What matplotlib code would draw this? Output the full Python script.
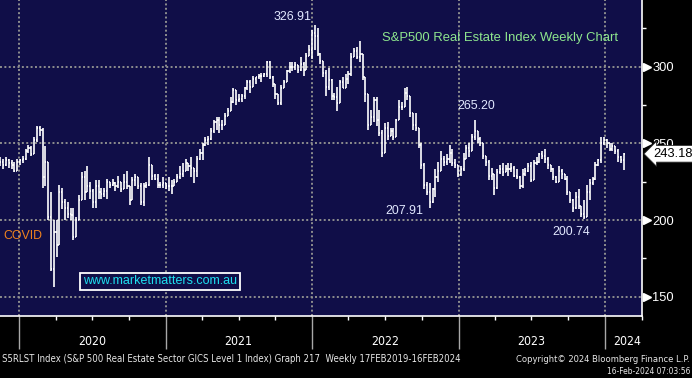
import numpy as np
import pandas as pd
import matplotlib
matplotlib.use("Agg")
import matplotlib.pyplot as plt
import matplotlib.dates as mdates
import matplotlib.transforms as mtrans
from matplotlib.ticker import FixedLocator
from matplotlib import font_manager as fm

# ---------------- data (weekly OHLC) ----------------
start_date = "2019-11-15"

opens = [237, 238, 236, 239, 237, 236, 232, 238, 239, 240,
         245, 247, 243, 252, 260, 259, 228, 238, 202, 168,
         192, 184, 218, 212, 208, 204, 203, 189, 200, 213,
         228, 218, 222, 219, 212, 222, 218, 217, 219, 225,
         223, 224, 222, 225, 220, 225, 222, 213, 226, 228,
         222, 212, 222, 223, 236, 229, 227, 223, 223, 224,
         222, 222, 222, 225, 228, 230, 232, 237, 235, 234,
         232, 240, 244, 249, 252, 253, 258, 264, 265, 262,
         262, 268, 271, 277, 285, 278, 279, 281, 286, 290,
         287, 292, 293, 294, 294, 295, 303, 293, 289, 282,
         276, 286, 290, 297, 300, 300, 301, 298, 302, 298,
         307, 311, 322, 320, 308, 304, 296, 287, 291, 281,
         280, 276, 290, 286, 292, 295, 306, 310, 306, 308,
         293, 282, 262, 267, 278, 265, 257, 244, 260, 255,
         258, 254, 265, 274, 274, 283, 281, 270, 262, 260,
         249, 236, 223, 218, 212, 220, 228, 232, 240, 238,
         240, 244, 237, 236, 230, 233, 240, 247, 245, 254,
         258, 253, 250, 242, 238, 229, 230, 221, 231, 233,
         231, 233, 233, 234, 229, 228, 222, 230, 232, 235,
         226, 237, 238, 243, 242, 240, 236, 233, 228, 225,
         232, 230, 227, 218, 213, 208, 215, 209, 204, 202,
         218, 224, 227, 236, 239, 250, 252, 250, 246, 248,
         245, 241, 239]

highs = [241, 240, 241, 240, 239, 238, 240, 240, 242, 246,
         249, 248, 254, 261, 261, 260, 248, 238, 218, 200,
         200, 223, 221, 214, 212, 208, 208, 202, 216, 231,
         232, 235, 225, 220, 226, 226, 221, 221, 227, 225,
         227, 225, 229, 225, 230, 232, 221, 228, 230, 228,
         224, 224, 225, 241, 236, 230, 230, 225, 228, 224,
         228, 226, 227, 230, 235, 237, 240, 237, 241, 233,
         242, 246, 250, 254, 255, 260, 265, 267, 267, 265,
         270, 273, 280, 286, 285, 282, 282, 287, 291, 291,
         294, 293, 295, 296, 296, 304, 304, 294, 288, 280,
         288, 291, 298, 303, 303, 303, 301, 306, 303, 309,
         314, 324, 326.91, 325, 309, 303, 298, 299, 292, 283,
         287, 291, 293, 295, 297, 309, 312, 313, 317, 306,
         293, 280, 272, 280, 280, 272, 259, 263, 264, 260,
         260, 266, 278, 277, 286, 287, 280, 270, 270, 260,
         250, 237, 225, 224, 221, 233, 238, 245, 242, 243,
         249, 246, 240, 236, 235, 244, 249, 250, 256, 265.20,
         258, 254, 250, 242, 239, 234, 229, 233, 236, 237,
         236, 237, 237, 235, 233, 229, 233, 234, 237, 238,
         239, 241, 244, 245, 246, 241, 236, 234, 229, 235,
         233, 230, 229, 218, 214, 218, 220, 209, 213, 223,
         227, 228, 238, 240, 254, 254, 253, 250, 250, 248,
         246, 242, 243.5]

lows = [235, 233, 235, 234, 233, 231, 232, 236, 237, 239,
        244, 242, 243, 251, 255, 221, 222, 200, 167, 156,
        176, 186, 207, 200, 201, 200, 187, 191, 202, 214,
        213, 218, 214, 208, 208, 214, 214, 215, 214, 221,
        222, 219, 221, 218, 222, 220, 210, 216, 222, 220,
        210, 209, 221, 222, 226, 226, 221, 221, 221, 220,
        219, 217, 222, 225, 227, 228, 232, 232, 228, 224,
        228, 239, 239, 248, 249, 252, 257, 259, 257, 259,
        262, 268, 271, 276, 275, 277, 277, 279, 285, 283,
        287, 289, 292, 290, 293, 293, 292, 287, 279, 275,
        275, 286, 290, 296, 297, 298, 296, 297, 294, 298,
        307, 305, 311, 307, 302, 293, 281, 285, 278, 278,
        271, 280, 286, 286, 289, 294, 306, 305, 303, 291,
        277, 259, 262, 264, 261, 255, 241, 244, 252, 255,
        252, 254, 265, 272, 274, 278, 267, 259, 258, 247,
        233, 220, 216, 207.91, 211, 215, 225, 232, 235, 236,
        237, 235, 234, 228, 229, 232, 240, 241, 245, 252,
        250, 248, 240, 235, 226, 226, 216, 220, 230, 229,
        231, 229, 231, 228, 227, 220, 221, 229, 231, 225,
        226, 236, 237, 240, 237, 233, 231, 226, 224, 225,
        227, 226, 216, 211, 205, 207, 207, 202, 200.74, 202,
        213, 223, 226, 235, 237, 249, 247, 245, 245, 243,
        238, 237, 232.7]

closes = [238, 236, 239, 237, 236, 232, 238, 239, 240, 245,
          247, 243, 252, 260, 259, 228, 238, 202, 168, 192,
          184, 218, 212, 208, 204, 203, 189, 200, 213, 228,
          218, 222, 219, 212, 222, 218, 217, 219, 225, 223,
          224, 222, 225, 220, 225, 222, 213, 226, 228, 222,
          212, 222, 223, 236, 229, 227, 223, 223, 224, 222,
          222, 222, 225, 228, 230, 232, 237, 235, 234, 232,
          240, 244, 249, 252, 253, 258, 264, 265, 262, 262,
          268, 271, 277, 285, 278, 279, 281, 286, 290, 287,
          292, 293, 294, 294, 295, 303, 293, 289, 282, 276,
          286, 290, 297, 300, 300, 301, 298, 302, 298, 307,
          311, 322, 320, 308, 304, 296, 287, 291, 281, 280,
          276, 290, 286, 292, 295, 306, 310, 306, 308, 293,
          282, 262, 267, 278, 265, 257, 244, 260, 255, 258,
          254, 265, 274, 274, 283, 281, 270, 262, 260, 249,
          236, 223, 218, 212, 220, 228, 232, 240, 238, 240,
          244, 237, 236, 230, 233, 240, 247, 245, 254, 258,
          253, 250, 242, 238, 229, 230, 221, 231, 233, 231,
          233, 233, 234, 229, 228, 222, 230, 232, 235, 226,
          237, 238, 243, 242, 240, 236, 233, 228, 225, 232,
          230, 227, 218, 213, 208, 215, 209, 204, 202, 218,
          224, 227, 236, 239, 250, 252, 250, 246, 248, 245,
          241, 239, 243.18]

y_ticks = [150, 200, 250, 300]
y_minor = [175, 225, 275, 325]
year_starts = ["2020-01-01", "2021-01-01", "2022-01-01", "2023-01-01", "2024-01-01"]
year_labels = ["2020", "2021", "2022", "2023", "2024"]
year_label_pos = ["2020-07-01", "2021-07-01", "2022-07-01", "2023-07-01", "2024-02-25"]

annotations = [("326.91", 293, 17.5), ("265.20", 476, 106),
               ("207.91", 404, 211), ("200.74", 571, 232)]
last_value = "243.18"

# ---------------- figure ----------------
W, H = 692, 378
AX_W, AX_H = 642, 316
fig = plt.figure(figsize=(W / 100, H / 100), dpi=100, facecolor="black")
ax = fig.add_axes([0, (H - AX_H) / H, AX_W / W, AX_H / H])
ax.set_facecolor("#100e48")

names = {f.name for f in fm.fontManager.ttflist}
sans = "Liberation Sans" if "Liberation Sans" in names else "DejaVu Sans"
narrow_kw = dict(family=sans)
if "Liberation Sans Narrow" in names:
    narrow_kw = dict(family="Liberation Sans Narrow")
elif any(f.name == "DejaVu Sans" and str(f.stretch) in ("condensed", "semi-condensed")
         for f in fm.fontManager.ttflist):
    narrow_kw = dict(family="DejaVu Sans", stretch="condensed")

dates = pd.date_range(start_date, periods=len(closes), freq="7D")
x = mdates.date2num(dates)
o = np.array(opens, float)
h = np.array(highs, float)
l = np.array(lows, float)
c = np.array(closes, float)

ax.set_xlim(mdates.date2num(pd.Timestamp("2019-11-14")),
            mdates.date2num(pd.Timestamp("2024-04-02")))
ax.set_ylim(137.4, 343.5)

grid_kw = dict(color="#8e8e8e", lw=1.4, ls=(0, (1, 1.25)), zorder=1)
for v in y_ticks:
    ax.axhline(v, **grid_kw)
for d in year_starts:
    ax.axvline(mdates.date2num(pd.Timestamp(d)), **grid_kw)

# OHLC bars
top = np.maximum.reduce([h, o, c])
bot = np.minimum.reduce([l, o, c])
tick = 2.6
ax.vlines(x, bot, top, color="white", lw=1.2, zorder=3)
ax.hlines(o, x - tick, x, color="white", lw=1.2, zorder=3)
ax.hlines(c, x, x + tick, color="white", lw=1.2, zorder=3)

# spines
for s in ["top", "left"]:
    ax.spines[s].set_visible(False)
for s in ["right", "bottom"]:
    ax.spines[s].set_color("white")
    ax.spines[s].set_linewidth(1.2)

# x ticks
ax.set_xticks([mdates.date2num(pd.Timestamp(d)) for d in year_starts])
ax.xaxis.set_minor_locator(mdates.MonthLocator(bymonth=[4, 7, 10]))
ax.tick_params(axis="x", which="major", length=24, width=1, color="#a8a8a8",
               labelbottom=False, direction="out")
ax.tick_params(axis="x", which="minor", length=2.6, width=1, color="white",
               direction="out")

texts = []
ytrans = mtrans.blended_transform_factory(ax.transData, ax.transAxes)
for lab, d in zip(year_labels, year_label_pos):
    t = ax.text(mdates.date2num(pd.Timestamp(d)), -25.5 / AX_H, lab, ha="center",
                va="center", color="white", fontsize=10, transform=ytrans,
                clip_on=False, **narrow_kw)
    texts.append((t, 28))

# y axis on the right
ax.yaxis.tick_right()
ax.set_yticks(y_ticks)
ax.set_yticklabels([str(v) for v in y_ticks], family=sans)
ax.yaxis.set_minor_locator(FixedLocator(y_minor))
ax.tick_params(axis="y", which="major", length=0, pad=7.3, labelcolor="white",
               labelsize=9.3)
ax.tick_params(axis="y", which="minor", length=3, width=1, color="white",
               direction="out")
rtrans = mtrans.blended_transform_factory(ax.transAxes, ax.transData)
ax.plot([1 + 4.5 / AX_W] * len(y_ticks), y_ticks, ls="none", marker=">", ms=6,
        color="white", transform=rtrans, clip_on=False, zorder=4)

# last value box
ax.text(1 + 11 / AX_W, c[-1], last_value, transform=rtrans, ha="left", va="center",
        fontsize=9.3, family=sans, color="black", zorder=10, clip_on=False,
        bbox=dict(boxstyle="larrow,pad=0.18", fc="white", ec="#303030", lw=0.6))


def ax_pt(px, py):
    return px / AX_W, (AX_H - py) / AX_H


for s, px, py in annotations:
    t = ax.text(*ax_pt(px, py), s, transform=ax.transAxes, ha="center", va="center",
                color="#e2e8ff", fontsize=9, family=sans, zorder=6)
    texts.append((t, 38))

t_title = ax.text(*ax_pt(500, 37.5), "S&P500 Real Estate Index Weekly Chart",
                  transform=ax.transAxes, ha="center", va="center",
                  color="#8ee68e", fontsize=10, family=sans, zorder=6)
texts.append((t_title, 236))
t_covid = ax.text(*ax_pt(3, 236), "COVID", transform=ax.transAxes, ha="left",
                  va="center", color="#f0821e", fontsize=10, family=sans, zorder=6)
texts.append((t_covid, 39))
t_url = ax.text(*ax_pt(160, 281.5), "www.marketmatters.com.au", transform=ax.transAxes,
                ha="center", va="center", color="#1ee0f0", fontsize=9.5, family=sans,
                zorder=6,
                bbox=dict(boxstyle="square,pad=0.22", fc="#100e48", ec="white", lw=1.3))
texts.append((t_url, 154))

f1 = fig.text(2 / W, 1 - 359 / H,
              "S5RLST Index (S&P 500 Real Estate Sector GICS Level 1 Index) Graph 217  "
              "Weekly 17FEB2019-16FEB2024", ha="left", va="center", color="#e8e8e8",
              fontsize=7.5, **narrow_kw)
texts.append((f1, 453))
f2 = fig.text(690 / W, 1 - 359 / H, "Copyright\u00a9 2024 Bloomberg Finance L.P.",
              ha="right", va="center", color="#e8e8e8", fontsize=7.5, **narrow_kw)
texts.append((f2, 172))
f3 = fig.text(690 / W, 1 - 371 / H, "16-Feb-2024 07:03:56", ha="right", va="center",
              color="#e8e8e8", fontsize=7.5, **narrow_kw)
texts.append((f3, 83))

# fit text widths to the reference
fig.canvas.draw()
r = fig.canvas.get_renderer()
for t, target in texts:
    w = t.get_window_extent(r).width
    if w > 0:
        t.set_fontsize(t.get_fontsize() * target / w)

fig.savefig("out.png", dpi=100, facecolor="black")
